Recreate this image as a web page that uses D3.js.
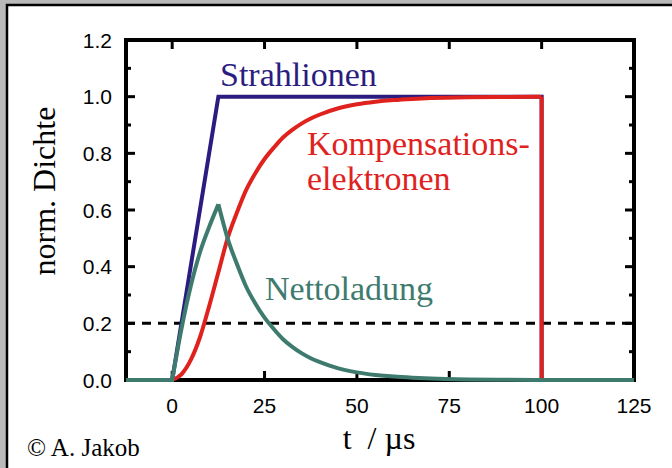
<!DOCTYPE html>
<html>
<head>
<meta charset="utf-8">
<script src="https://cdn.jsdelivr.net/npm/d3@7"></script>
<style>
  body { margin: 0; background: #b9b9b9; }
  svg { display: block; }
</style>
</head>
<body>
<svg></svg>
<script>
const size = {w: 672, h: 468};
const margin = {t: 40, r: 38, b: 88, l: 126};

// time axis (µs) and densities
const tRise = [0, 2.5, 5, 7.5, 10, 12.5];
const tDecay = [15, 17.5, 20, 22.5, 25, 27.5, 30, 32.5, 35, 37.5, 40, 45, 50, 55, 60, 65, 70, 80, 90, 100];

const ionT = [-12.5, 0, 12.5, 100, 100, 125];
const ionV = [0, 0, 1, 1, 0, 0];

const elecRise = [0, 0.02, 0.07, 0.15, 0.26, 0.38];
const elecDecay = [0.50, 0.59, 0.67, 0.73, 0.78, 0.82, 0.856, 0.883, 0.905, 0.923, 0.937, 0.959, 0.973, 0.982, 0.988, 0.992, 0.995, 0.998, 0.999, 1.0];

const netRise = [0, 0.18, 0.33, 0.45, 0.54, 0.62];
const netDecay = [0.50, 0.41, 0.33, 0.27, 0.22, 0.18, 0.144, 0.117, 0.095, 0.077, 0.063, 0.041, 0.027, 0.018, 0.012, 0.008, 0.005, 0.002, 0.001, 0];

const xTicks = [0, 25, 50, 75, 100, 125];
const yTicks = [0, 0.2, 0.4, 0.6, 0.8, 1.0, 1.2];
const yMinor = [0.1, 0.3, 0.5, 0.7, 0.9, 1.1];
const threshold = 0.2;

const colors = {ion: '#2b1c80', elec: '#e0221e', net: '#3e7b6e'};

const svg = d3.select('svg')
    .attr('width', size.w)
    .attr('height', size.h);

// white panel with black top/left edge
svg.append('rect')
    .attr('x', 7).attr('y', 5)
    .attr('width', size.w).attr('height', size.h)
    .attr('fill', '#fff');
svg.append('path')
    .attr('d', `M7,${size.h} V5 H${size.w}`)
    .attr('fill', 'none')
    .attr('stroke', '#000')
    .attr('stroke-width', 2.5);

const x = d3.scaleLinear().domain([-12.5, 125]).range([margin.l, size.w - margin.r]);
const y = d3.scaleLinear().domain([0, 1.2]).range([size.h - margin.b, margin.t]);

const zip = (ts, vs) => ts.map((t, i) => [t, vs[i]]);

const lineLin = d3.line().x(d => x(d[0])).y(d => y(d[1]));
const lineSmooth = d3.line().x(d => x(d[0])).y(d => y(d[1])).curve(d3.curveMonotoneX);

// frame and inward ticks (drawn first, curves sit on top)
const frame = svg.append('g').attr('stroke', '#000');
frame.append('rect')
    .attr('x', x(-12.5)).attr('y', y(1.2))
    .attr('width', x(125) - x(-12.5))
    .attr('height', y(0) - y(1.2))
    .attr('fill', 'none')
    .attr('stroke-width', 4);

const major = 9, minor = 5;
xTicks.filter(d => d < 125).forEach(t => {
    frame.append('line').attr('x1', x(t)).attr('x2', x(t))
        .attr('y1', y(1.2)).attr('y2', y(1.2) + major).attr('stroke-width', 3);
    frame.append('line').attr('x1', x(t)).attr('x2', x(t))
        .attr('y1', y(0)).attr('y2', y(0) - major).attr('stroke-width', 3);
});
yTicks.filter(d => d > 0 && d < 1.2).forEach(v => {
    frame.append('line').attr('x1', x(-12.5)).attr('x2', x(-12.5) + major)
        .attr('y1', y(v)).attr('y2', y(v)).attr('stroke-width', 3);
    frame.append('line').attr('x1', x(125)).attr('x2', x(125) - major)
        .attr('y1', y(v)).attr('y2', y(v)).attr('stroke-width', 3);
});
yMinor.forEach(v => {
    frame.append('line').attr('x1', x(-12.5)).attr('x2', x(-12.5) + minor)
        .attr('y1', y(v)).attr('y2', y(v)).attr('stroke-width', 3);
    frame.append('line').attr('x1', x(125)).attr('x2', x(125) - minor)
        .attr('y1', y(v)).attr('y2', y(v)).attr('stroke-width', 3);
});

const lw = 4;
const plotG = svg.append('g');

// threshold
plotG.append('line')
    .attr('x1', x(-12.5)).attr('x2', x(125))
    .attr('y1', y(threshold)).attr('y2', y(threshold))
    .attr('stroke', '#000')
    .attr('stroke-width', 3)
    .attr('stroke-dasharray', '9,7');

// beam ions
plotG.append('path')
    .attr('d', lineLin(zip(ionT, ionV)))
    .attr('fill', 'none')
    .attr('stroke', colors.ion)
    .attr('stroke-width', lw)
    .attr('stroke-linejoin', 'miter');

// compensating electrons
const elecT = tRise.concat(tDecay);
const elecV = elecRise.concat(elecDecay);
plotG.append('path')
    .attr('d', lineSmooth(zip(elecT, elecV)))
    .attr('fill', 'none')
    .attr('stroke', colors.elec)
    .attr('stroke-width', lw);
plotG.append('path')
    .attr('d', lineLin([[100, 1], [100, 0]]))
    .attr('fill', 'none')
    .attr('stroke', colors.elec)
    .attr('stroke-width', lw);

// net charge
const netPts1 = zip(tRise, netRise);
const netPts2 = [[12.5, 0.62]].concat(zip(tDecay, netDecay));
plotG.append('path')
    .attr('d', lineLin([[-12.5, 0], [0, 0]]) + lineSmooth(netPts1).replace(/^M/, 'L'))
    .attr('fill', 'none')
    .attr('stroke', colors.net)
    .attr('stroke-width', lw)
    .attr('stroke-linejoin', 'miter');
plotG.append('path')
    .attr('d', lineSmooth(netPts2) + 'L' + x(125) + ',' + y(0))
    .attr('fill', 'none')
    .attr('stroke', colors.net)
    .attr('stroke-width', lw);

// tick labels
svg.append('g')
    .selectAll('text')
    .data(yTicks)
    .join('text')
    .attr('x', x(-12.5) - 14)
    .attr('y', d => y(d))
    .attr('dy', '0.36em')
    .attr('text-anchor', 'end')
    .attr('font-family', 'Liberation Sans, Arial, sans-serif')
    .attr('font-size', 21)
    .text(d => d.toFixed(1));

svg.append('g')
    .selectAll('text')
    .data(xTicks)
    .join('text')
    .attr('x', d => x(d))
    .attr('y', y(0) + 33)
    .attr('text-anchor', 'middle')
    .attr('font-family', 'Liberation Sans, Arial, sans-serif')
    .attr('font-size', 21)
    .text(d => d);

// axis titles
const serif = 'Liberation Serif, Times New Roman, serif';
svg.append('text')
    .attr('transform', 'translate(55, 191) rotate(-90)')
    .attr('text-anchor', 'middle')
    .attr('font-family', serif)
    .attr('font-size', 32)
    .text('norm. Dichte');

svg.append('text')
    .attr('x', 379).attr('y', 449)
    .attr('text-anchor', 'middle')
    .attr('font-family', serif)
    .attr('font-size', 32)
    .attr('xml:space', 'preserve')
    .text('t  / µs');

svg.append('text')
    .attr('x', 27).attr('y', 456)
    .attr('font-family', serif)
    .attr('font-size', 25)
    .text('© A. Jakob');

// curve labels
const labels = [
    {text: 'Strahlionen', x: 220, y: 86, color: colors.ion},
    {text: 'Kompensations-', x: 307, y: 155, color: colors.elec},
    {text: 'elektronen', x: 307, y: 190, color: colors.elec},
    {text: 'Nettoladung', x: 265, y: 300, color: colors.net}
];
svg.append('g')
    .selectAll('text')
    .data(labels)
    .join('text')
    .attr('x', d => d.x)
    .attr('y', d => d.y)
    .attr('fill', d => d.color)
    .attr('font-family', serif)
    .attr('font-size', 34)
    .text(d => d.text);
</script>
</body>
</html>
